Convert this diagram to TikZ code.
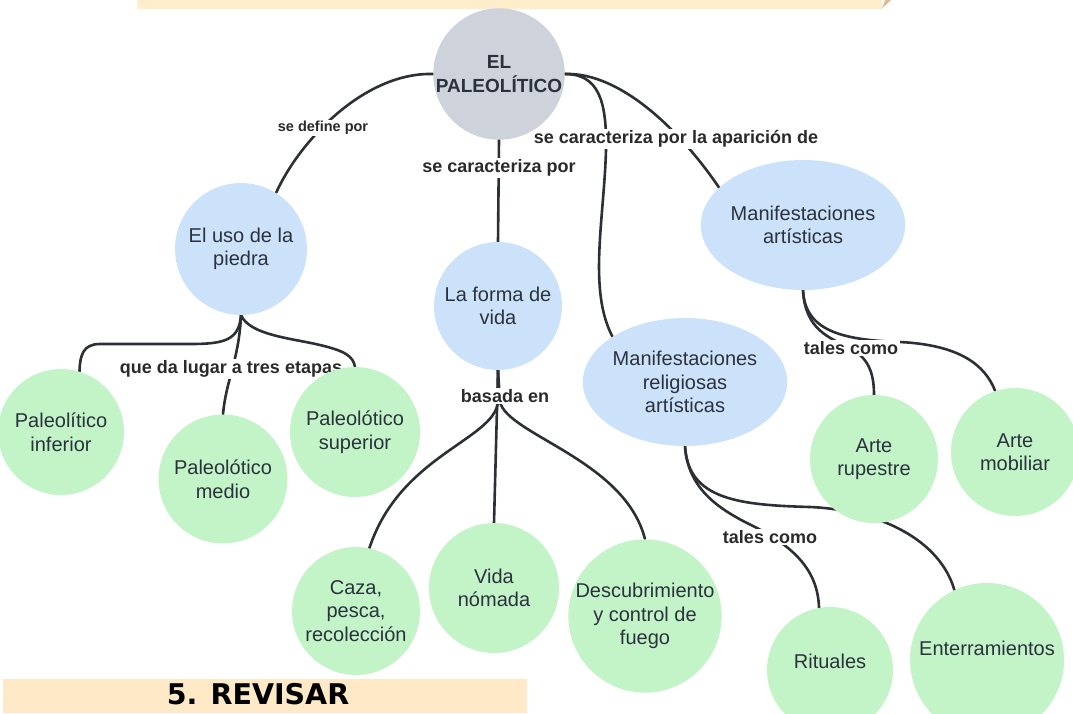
\documentclass[tikz,border=0pt]{standalone}
\usepackage{fontspec}
\setmainfont{Liberation Sans}
\newfontfamily\bannerfont{DejaVu Sans}
\usetikzlibrary{shapes.geometric}
\definecolor{greyc}{HTML}{CDD2DB}
\definecolor{bluec}{HTML}{CCE2FB}
\definecolor{greenc}{HTML}{C3F4C7}
\definecolor{linec}{HTML}{2C3035}
\definecolor{textc}{HTML}{2B323D}
\definecolor{lblc}{HTML}{2A2A2A}
\definecolor{bantop}{HTML}{FFEDCC}
\definecolor{bantan}{HTML}{D9BF94}
\definecolor{banbot}{HTML}{FFE9C6}
\newcommand\nodefnt{\fontsize{20}{23.5}\selectfont}
\newcommand\lblfnt{\bfseries\fontsize{18}{20}\selectfont}
\pgfdeclarelayer{edgelayer}
\pgfdeclarelayer{lbllayer}
\pgfsetlayers{edgelayer,lbllayer,main}
\tikzset{
  conn/.style={draw=linec, line width=2.6pt, line cap=round},
  cnode/.style={circle, inner sep=0pt, minimum size=#1, align=center, font=\nodefnt, text=textc},
  bnode/.style={cnode=#1, fill=bluec},
  gnode/.style={cnode=#1, fill=greenc},
  enode/.style={ellipse, inner sep=0pt, minimum width=166pt, minimum height=#1, align=center, font=\nodefnt, text=textc, fill=bluec},
  lbl/.style={fill=white, inner sep=1.5pt, font=\lblfnt, text=lblc},
}
\begin{document}
\begin{tikzpicture}[x=1pt,y=-1pt]
\useasboundingbox (0,0) rectangle (1073,713);
% banners
\fill[bantop] (137,0) rectangle (882,8.5);
\fill[bantan] (882,8.5) -- (885,0) -- (891,0) -- cycle;
\fill[banbot] (3,679) rectangle (527,713);
\node[font=\bannerfont\bfseries\fontsize{28.5}{30}\selectfont, text=black] (rev) at (258,694) {5. REVISAR};
% nodes
\node[cnode=129pt, fill=greyc, font=\bfseries\fontsize{19}{23.5}\selectfont] (pal) at (499,74) {EL\\PALEOLÍTICO};
\node[bnode=132pt] (uso) at (241,249) {El uso de la\\piedra};
\node[bnode=128pt] (forma) at (498,306) {La forma de\\vida};
\node[enode=130pt] (manart) at (803,225) {Manifestaciones\\artísticas};
\node[enode=128pt] (relig) at (685,382) {Manifestaciones\\religiosas\\artísticas};
\node[gnode=126pt] (inf) at (61,432) {Paleolítico\\inferior};
\node[gnode=129pt] (med) at (223,479) {Paleolótico\\medio};
\node[gnode=130pt] (sup) at (355,432) {Paleolótico\\superior};
\node[gnode=128pt] (caza) at (356,611) {Caza,\\pesca,\\recolección};
\node[gnode=130pt] (vida) at (494,588) {Vida\\nómada};
\node[gnode=150pt] (desc) at (645,616) {Descubrimiento\\y control de\\fuego};
\node[gnode=128pt] (rup) at (874,459) {Arte\\rupestre};
\node[gnode=128pt] (mob) at (1015,452) {Arte\\mobiliar};
\node[gnode=126pt] (rit) at (830,670) {\raisebox{18pt}{Rituales}};
\node[gnode=154pt] (ent) at (987,660) {\raisebox{24pt}{Enterramientos}};
% labels
\begin{pgfonlayer}{lbllayer}
\node[lbl, font=\bfseries\fontsize{14.5}{16}\selectfont] (l1) at (323,128) {se define por};
\node[lbl] (l2) at (499,168) {se caracteriza por};
\node[lbl] (l3) at (676,139) {se caracteriza por la aparición de};
\node[lbl] (l4) at (231,369) {que da lugar a tres etapas};
\node[lbl] (l5) at (505,396) {basada en};
\node[lbl] (l6) at (851,348) {tales como};
\node[lbl] (l7) at (770,537) {tales como};
\end{pgfonlayer}
% connectors
\begin{pgfonlayer}{edgelayer}
\draw[conn] (pal.west) .. controls (365,72) and (300,140) .. (uso.58);
\draw[conn] (pal.south) -- (forma.north);
\draw[conn] (pal.east) .. controls (620,72) and (680,130) .. (manart.156);
\draw[conn] (pal.east) .. controls (598,74) and (607,100) .. (606,150) .. controls (604,220) and (588,290) .. (relig.148);
\draw[conn] (uso.south) .. controls (239,340) and (225,344) .. (190,344) -- (100,344) .. controls (83,344) and (80,355) .. (inf.73);
\draw[conn] (uso.south) .. controls (239,360) and (226,380) .. (med.north);
\draw[conn] (uso.south) .. controls (250,335) and (290,338) .. (320,345) .. controls (345,351) and (353,356) .. (sup.north);
\draw[conn] (forma.south) -- (498,402) .. controls (494,440) and (400,455) .. (caza.78);
\draw[conn] (forma.south) -- (vida.north);
\draw[conn] (forma.south) -- (500,402) .. controls (508,435) and (625,460) .. (desc.north);
\draw[conn] (manart.south) .. controls (805,330) and (840,340) .. (900,342) .. controls (960,345) and (985,365) .. (mob.108);
\draw[conn] (manart.south) .. controls (805,330) and (830,338) .. (850,348) .. controls (868,358) and (874,372) .. (rup.north);
\draw[conn] (relig.south) .. controls (688,490) and (720,510) .. (755,527) .. controls (800,550) and (818,575) .. (rit.100);
\draw[conn] (relig.south) .. controls (688,500) and (740,505) .. (810,507) .. controls (880,510) and (940,540) .. (ent.115);
\end{pgfonlayer}
\end{tikzpicture}
\end{document}
